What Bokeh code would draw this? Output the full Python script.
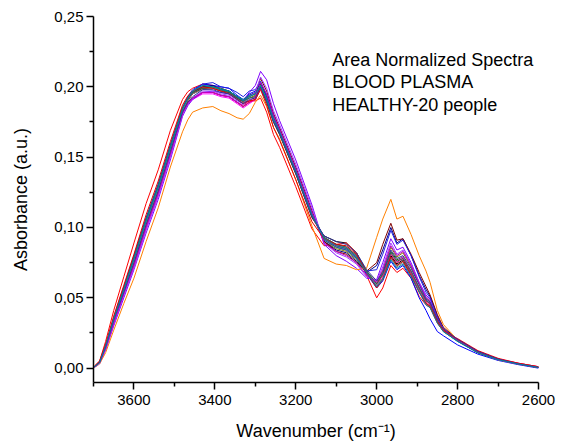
import numpy as np
from bokeh.plotting import figure
from bokeh.models import Range1d, FixedTicker, CustomJSTickFormatter, Label
from bokeh.embed import file_html
from bokeh.resources import INLINE

# wavenumber grid (cm-1)
wavenumber = [3698, 3685, 3670, 3650, 3625, 3600, 3570, 3540, 3510, 3480, 3467,
              3455, 3430, 3405, 3385, 3365, 3345, 3330, 3315, 3300,
              3287, 3272, 3255, 3240, 3200, 3160,
              3130, 3100, 3075, 3050,
              3025, 3000, 2985, 2965, 2950, 2935, 2915, 2895, 2878, 2868, 2850, 2835,
              2800, 2750, 2700, 2650, 2600]

# absorbance values, in units of 1e-3 a.u.
s01 = [1, 4, 15, 34, 55, 76, 103, 127, 155, 183, 189, 192, 196, 196, 194, 193, 189, 186, 189, 191,
       199, 189, 175, 166, 138, 107, 94, 90, 89, 82,
       69, 60, 66, 80, 74, 77, 68, 57, 48, 46, 34, 27, 20, 12, 6.5, 3, 0.5]
s02 = [1.5, 5, 19, 41, 65, 89, 117, 141, 169, 191, 196.5, 199, 202, 201, 199, 197, 193, 189, 190, 190,
       192, 182, 166, 157, 129, 99, 87, 88, 89, 82,
       66, 50, 57, 73, 68, 71, 64, 51, 45, 43, 32, 26, 21, 12.5, 7, 3.5, 1]
s03 = [1, 4, 16, 35, 57, 79, 106, 130, 158, 185, 192.5, 197, 202, 201, 200, 199, 194, 191, 195, 197,
       202, 192, 177, 168, 140, 109, 91, 86, 84, 78,
       67, 57, 62, 76, 70, 73, 64, 50, 41, 35, 26, 23, 16.5, 10, 5.5, 2.5, 0]
s04 = [1, 4, 15, 35, 56, 78, 105, 129, 157, 184, 191.5, 196, 200, 200, 198, 197, 193, 190, 193, 195,
       202, 192, 178, 169, 141, 110, 92, 87, 85, 79,
       68, 60, 67, 83, 77, 79, 69, 57, 48, 46, 34, 27, 19.5, 11, 6, 3, 0.5]
s05 = [1, 4, 14, 32, 52, 72, 99, 123, 151, 181, 187.5, 191, 195, 195, 193, 192, 188, 185, 188, 191,
       200, 191, 177, 168, 140, 109, 91, 86, 84, 78,
       68, 59, 66, 82, 76, 79, 69, 57, 48, 46, 34, 27, 20, 11.5, 6, 3, 0.5]
s06 = [1, 4, 15, 34, 56, 77, 104, 128, 156, 184, 191, 195, 199, 199, 197, 196, 192, 189, 192, 194,
       201, 191, 177, 168, 140, 109, 90, 85, 83, 77,
       68, 61, 69, 86, 79, 82, 72, 60, 50, 48, 35, 28, 19.5, 11, 6, 3, 0.5]
s07 = [1, 4, 15, 33, 54, 75, 102, 126, 154, 182, 190.5, 196, 200, 201, 198, 197, 193, 190, 194, 196,
       203, 194, 180, 170, 142, 111, 90, 84, 82, 76,
       68, 73, 84, 100, 89, 92, 80, 66, 56, 51, 37, 28, 20, 11.5, 6, 3, 0.5]
s08 = [0.5, 3, 13, 30, 50, 70, 96, 120, 148, 179, 186.5, 191, 196, 197, 196, 195, 192, 190, 196, 201,
       211, 205, 188, 176, 148, 116, 88, 80, 76, 71,
       64, 63, 75, 92, 84, 86, 75, 61, 52, 49, 36, 28, 20, 11.5, 6, 3, 0.5]
s09 = [1, 4, 14, 33, 54, 74, 101, 125, 153, 182, 190, 195, 199, 199, 197, 196, 192, 189, 193, 196,
       206, 197, 181, 171, 143, 112, 90, 83, 81, 75,
       69, 75, 88, 103, 91, 92, 81, 68, 58, 52, 38, 29, 20.5, 12, 6.5, 3, 0.5]
s10 = [1, 4, 15, 34, 56, 77, 104, 128, 156, 184, 192, 197, 201, 200, 199, 197, 193, 191, 194, 195,
       201, 191, 177, 168, 140, 109, 91, 86, 84, 78,
       68, 58, 64, 79, 73, 76, 67, 55, 46, 44, 33, 26, 19, 11, 6, 3, 0.5]
s11 = [1, 4, 16, 36, 58, 80, 107, 131, 159, 185, 193, 198, 202, 203, 200, 199, 196, 193, 197, 198,
       204, 194, 178, 169, 141, 110, 93, 88, 86, 80,
       69, 70, 81, 98, 88, 91, 80, 65, 54, 50, 36, 28, 19.5, 11.5, 6, 3, 0.5]
s12 = [0.5, 3, 11, 27, 46, 64, 90, 114, 143, 168, 176.5, 182, 185, 186, 183, 181, 178, 177, 181, 189,
       194, 186, 171, 163, 134, 101, 78, 74, 73, 70,
       71, 93, 106, 120, 106, 108, 95, 80, 69, 61, 41, 31, 20, 11.5, 6, 3, 0.5]
s13 = [1, 4, 14, 33, 54, 74, 101, 125, 153, 182, 188.5, 192, 196, 196, 194, 193, 189, 186, 189, 191,
       199, 190, 176, 167, 139, 108, 92, 87, 85, 79,
       68, 59, 66, 81, 75, 78, 68, 56, 47, 45, 34, 27, 20.5, 12, 6.5, 3.5, 1]
s14 = [0.5, 3.5, 13, 31, 52, 71, 98, 122, 150, 180, 187.5, 192, 197, 197, 195, 194, 190, 188, 193, 196,
       207, 199, 183, 173, 145, 114, 89, 82, 79, 74,
       65, 62, 72, 89, 81, 84, 74, 61, 51, 48, 35, 28, 20, 11.5, 6, 3, 0.5]
s15 = [1, 4, 15, 34, 55, 76, 103, 127, 155, 183, 190.5, 195, 198, 199, 197, 195, 191, 189, 192, 193,
       201, 191, 177, 168, 140, 109, 93, 88, 86, 80,
       69, 59, 64, 78, 72, 75, 66, 55, 46, 44, 33, 26, 19.5, 11, 6, 3, 0.5]
s16 = [1, 4, 16, 35, 57, 79, 106, 130, 158, 185, 192, 196, 199, 200, 198, 196, 192, 190, 192, 193,
       200, 190, 175, 167, 139, 108, 93, 88, 86, 80,
       69, 60, 67, 82, 76, 78, 69, 57, 48, 46, 34, 27, 19.5, 11, 6, 3, 0.5]
s17 = [1, 4, 14, 32, 53, 73, 100, 124, 152, 181, 188, 192, 196, 196, 194, 193, 189, 187, 190, 193,
       203, 195, 180, 170, 142, 111, 89, 83, 80, 75,
       66, 61, 70, 87, 80, 83, 73, 60, 50, 47, 35, 27, 20, 11.5, 6, 3, 0.5]
s18 = [1, 5, 17, 37, 59, 81, 109, 133, 161, 187, 193.5, 197, 200, 199, 197, 195, 191, 188, 190, 191,
       198, 187, 171, 162, 134, 104, 92, 88, 87, 81,
       68, 57, 63, 79, 73, 76, 66, 54, 46, 44, 33, 27, 20.5, 12, 6.5, 3.5, 1]
s19 = [1, 4, 15, 34, 54, 75, 102, 126, 154, 182, 189, 193, 198, 198, 196, 195, 191, 188, 191, 192,
       200, 190, 175, 167, 139, 108, 94, 90, 88, 82,
       70, 62, 68, 84, 78, 80, 71, 59, 49, 47, 35, 28, 20.5, 12, 6.5, 3, 0.5]
s20 = [1, 4, 16, 35, 56, 78, 105, 129, 157, 184, 192, 197, 201, 200, 198, 197, 193, 190, 193, 195,
       201, 191, 177, 168, 140, 109, 92, 87, 85, 79,
       68, 58, 63, 77, 71, 74, 65, 54, 45, 43, 32, 26, 19, 11, 6, 3, 0.5]

series = [s01, s02, s03, s04, s05, s06, s07, s08, s09, s10,
          s11, s12, s13, s14, s15, s16, s17, s18, s19, s20]
colors = ["#000000", "#FF0000", "#0000FF", "#008000", "#FF00FF", "#808000", "#000080",
          "#8000FF", "#800000", "#008080", "#2020E0", "#FF8000", "#FF0080", "#A040FF",
          "#808080", "#2F6F4F", "#C000C0", "#E00000", "#333399", "#0080A0"]

x_ticks = [2600, 2800, 3000, 3200, 3400, 3600]
x_minor = [2700, 2900, 3100, 3300, 3500, 3700]
y_ticks = [0.0, 0.05, 0.10, 0.15, 0.20, 0.25]
y_minor = [0.025, 0.075, 0.125, 0.175, 0.225]

annotation = ["Area Normalized Spectra", "BLOOD PLASMA", "HEALTHY-20 people"]

FONT = "Liberation Sans"

p = figure(width=564, height=445, output_backend="svg", toolbar_location=None,
           x_range=Range1d(3700, 2600), y_range=Range1d(-0.0102, 0.25),
           min_border_left=93, min_border_right=26, min_border_top=16, min_border_bottom=63)

wn = np.array(wavenumber, dtype=float)
for vals, col in zip(series, colors):
    p.line(wn, np.array(vals, dtype=float) / 1000.0, line_color=col, line_width=1,
           line_join="round")

p.xgrid.visible = False
p.ygrid.visible = False
p.outline_line_color = None
p.background_fill_color = "white"
p.border_fill_color = "white"

p.xaxis.ticker = FixedTicker(ticks=x_ticks, minor_ticks=x_minor)
p.yaxis.ticker = FixedTicker(ticks=y_ticks, minor_ticks=y_minor)
p.yaxis.formatter = CustomJSTickFormatter(code="return tick.toFixed(2).replace('.', ',');")

for ax in (p.xaxis[0], p.yaxis[0]):
    ax.axis_line_width = 1.5
    ax.axis_line_color = "black"
    ax.major_tick_line_width = 1.5
    ax.minor_tick_line_width = 1.5
    ax.major_tick_line_color = "black"
    ax.minor_tick_line_color = "black"
    ax.major_tick_out = 7
    ax.major_tick_in = 0
    ax.minor_tick_out = 4
    ax.minor_tick_in = 0
    ax.major_label_text_font = FONT
    ax.major_label_text_font_size = "15px"
    ax.major_label_text_color = "black"
    ax.axis_label_text_font = FONT
    ax.axis_label_text_font_size = "18px"
    ax.axis_label_text_font_style = "normal"
    ax.axis_label_text_color = "black"

p.xaxis.axis_label = "Wavenumber (cm\u207b\u00b9)"
p.yaxis.axis_label = "Asborbance (a.u.)"
p.xaxis.major_label_standoff = 5
p.yaxis.major_label_standoff = 3
p.xaxis.axis_label_standoff = 13
p.yaxis.axis_label_standoff = 20

for txt, yv in zip(annotation, [0.2190, 0.2031, 0.1871]):
    p.add_layout(Label(x=3110, y=yv, text=txt, text_font=FONT, text_font_size="18px",
                       text_color="black", text_baseline="alphabetic", text_align="left"))

open("out.html", "w").write(file_html(p, INLINE))
